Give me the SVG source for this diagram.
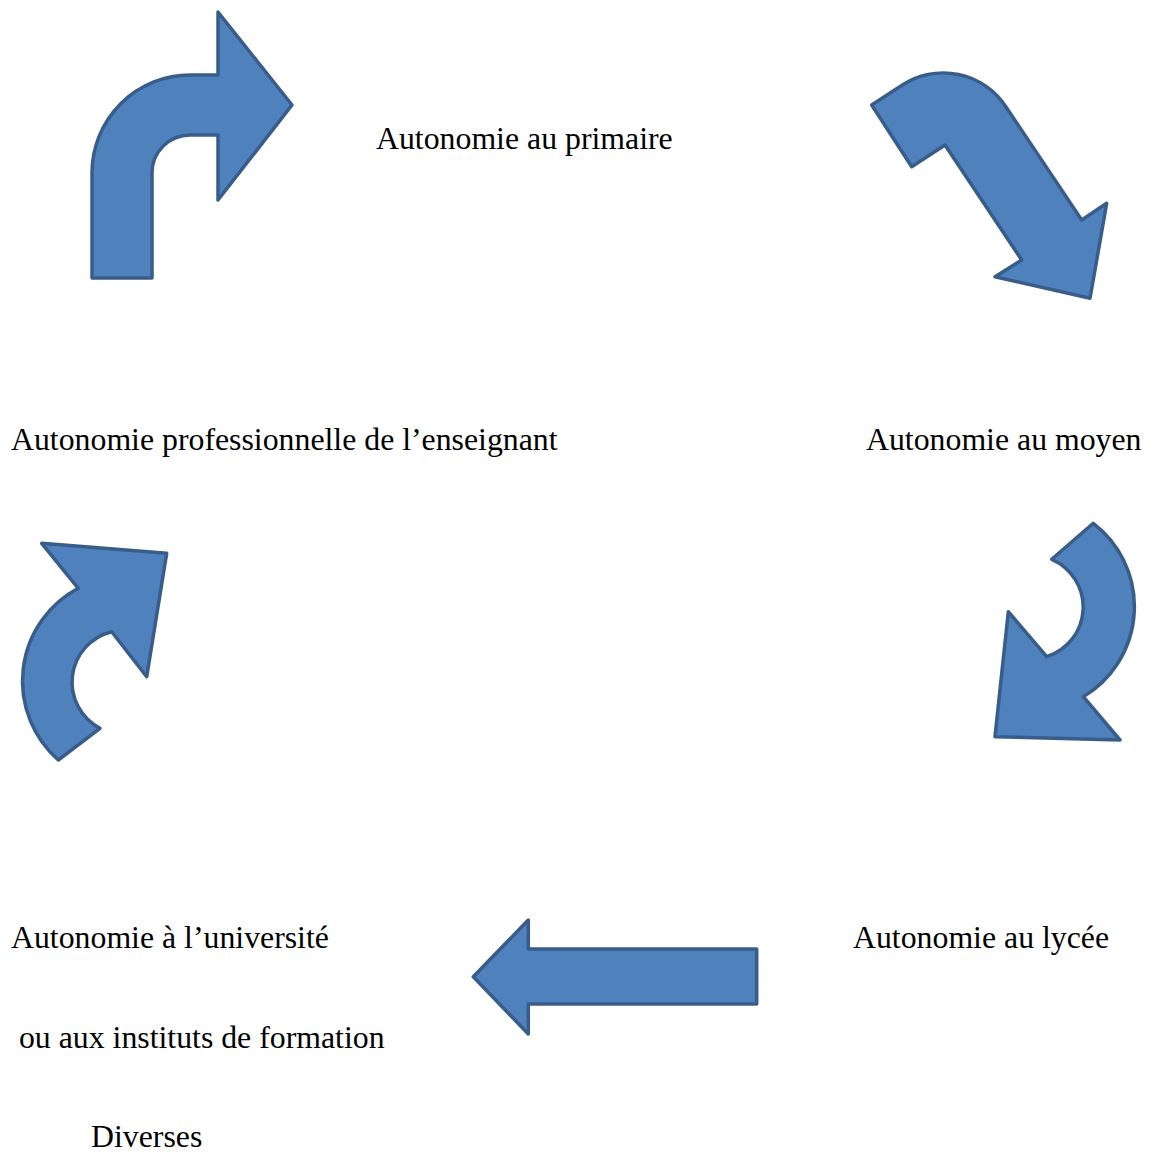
<svg xmlns="http://www.w3.org/2000/svg" width="1150" height="1153" viewBox="0 0 1150 1153">
<style>
.arr{fill:#4F81BD;stroke:#385D8A;stroke-width:3.5;stroke-linejoin:round}
.t{font-family:"Liberation Serif","Times New Roman",serif;font-size:31.8px;fill:#000}
</style>
<rect width="1150" height="1153" fill="#fff"/>
<g id="connectors">
<path id="arrow1" class="arr" d="M92,278 L92,173 A98,98 0 0 1 190,75 L218,75 L218,12 L292,105 L218,200 L218,135 L190,135 A38,38 0 0 0 152,173 L152,278 Z"/>
<path id="arrow2" class="arr" d="M871.7,105 L902,85.3 A75,75 0 0 1 1006,107 L1081.7,220 L1106.7,203.3 L1090,298.3 L995,276.7 L1021.7,260 L945,145 L911.7,166.7 Z"/>
<path id="arrow3" class="arr" d="M1093.3,523.3 A105,105 0 0 1 1083.3,696.7 L1120,740 L995,736.7 L1008.3,611.7 L1046.7,656.7 A52,52 0 0 0 1051.7,559.3 Z"/>
<path id="arrow4" class="arr" d="M58.3,760 A105,105 0 0 1 78.3,588.3 L41.7,543.3 L166.7,553.3 L146.7,676.7 L111.7,631.7 A52,52 0 0 0 100,728.3 Z"/>
<path id="arrow5" class="arr" d="M473.3,976.7 L528.3,920 L528.3,949 L756.7,949 L756.7,1004 L528.3,1004 L528.3,1034 Z"/>
</g>
<g id="primaire"><text class="t" x="376" y="148.5">Autonomie au primaire</text></g>
<g id="enseignant"><text class="t" x="11" y="449.5">Autonomie professionnelle de l’enseignant</text></g>
<g id="moyen"><text class="t" x="866" y="449.5">Autonomie au moyen</text></g>
<g id="universite">
<text class="t" x="11" y="947.5">Autonomie à l’université</text>
<text class="t" x="11" y="1047.5" xml:space="preserve"> ou aux instituts de formation</text>
<text class="t" x="91" y="1146.7">Diverses</text>
</g>
<g id="lycee"><text class="t" x="853" y="947.5">Autonomie au lycée</text></g>
</svg>
